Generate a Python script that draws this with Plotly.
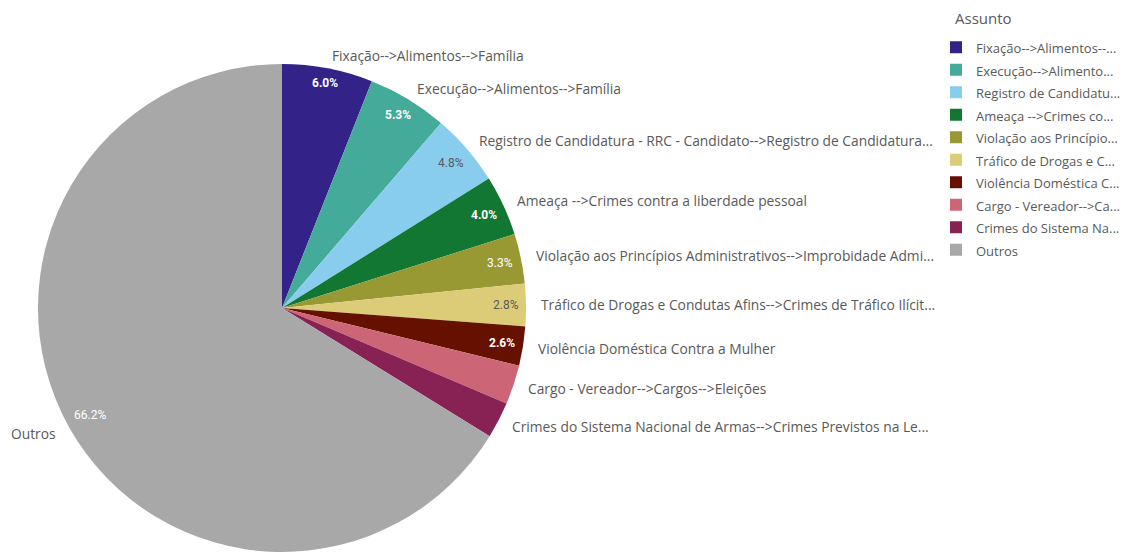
import math
import plotly.graph_objects as go

# Share of cases by subject (%), clockwise from 12 o'clock
legend_labels = [
    "Fixação-->Alimentos--...",
    "Execução-->Alimento...",
    "Registro de Candidatu...",
    "Ameaça -->Crimes co...",
    "Violação aos Princípio...",
    "Tráfico de Drogas e C...",
    "Violência Doméstica C...",
    "Cargo - Vereador-->Ca...",
    "Crimes do Sistema Na...",
    "Outros",
]
slice_labels = [
    "Fixação-->Alimentos-->Família",
    "Execução-->Alimentos-->Família",
    "Registro de Candidatura - RRC - Candidato-->Registro de Candidatura...",
    "Ameaça -->Crimes contra a liberdade pessoal",
    "Violação aos Princípios Administrativos-->Improbidade Admi...",
    "Tráfico de Drogas e Condutas Afins-->Crimes de Tráfico Ilícit...",
    "Violência Doméstica Contra a Mulher",
    "Cargo - Vereador-->Cargos-->Eleições",
    "Crimes do Sistema Nacional de Armas-->Crimes Previstos na Le...",
    "Outros",
]
shares = [6.0, 5.3, 4.8, 4.0, 3.3, 2.8, 2.6, 2.6, 2.4, 66.2]
show_pct = [True, True, True, True, True, True, True, False, False, True]
colors = ["#332288", "#44aa99", "#88ccee", "#117733", "#999933",
          "#ddcc77", "#661100", "#cc6677", "#882255", "#a8a8a8"]
pct_colors = ["#ffffff", "#ffffff", "#595959", "#ffffff", "#ffffff",
              "#595959", "#ffffff", "#ffffff", "#ffffff", "#ffffff"]
pct_bold = [True, True, False, True, False, False, True, False, False, False]

W, H = 1130, 552
CX, TOP, R = 282, 64, 244
CY = TOP + R

FONT = "Open Sans"
TEXT_GRAY = "#595959"

dom_x = [(CX - R) / W, (CX + R) / W]
dom_y = [max(0.0, 1 - (TOP + 2 * R) / H), 1 - TOP / H]

# legend rows use a taller line box than the visible text size
legend_text = [f'<span style="font-size:13px">{t}</span>' for t in legend_labels]

fig = go.Figure(go.Pie(
    labels=legend_text,
    values=shares,
    sort=False,
    direction="clockwise",
    rotation=0,
    marker=dict(colors=colors, line=dict(width=0)),
    textinfo="none",
    hoverinfo="label+percent",
    domain=dict(x=dom_x, y=dom_y),
))


def to_paper(px, py):
    return px / W, 1 - py / H


annotations = []
total = sum(shares)
cum = 0.0
for lab, v, sp, pc, bold in zip(slice_labels, shares, show_pct, pct_colors, pct_bold):
    mid = (cum + v / 2) / total * 2 * math.pi
    cum += v
    s, c = math.sin(mid), math.cos(mid)

    # outside category label
    rl = R + 13
    x, y = to_paper(CX + rl * s, CY - rl * c)
    annotations.append(dict(
        x=x, y=y, xref="paper", yref="paper", text=lab, showarrow=False,
        xanchor="left" if s >= 0 else "right", yanchor="middle",
        font=dict(family=FONT, size=13.8, color=TEXT_GRAY),
    ))

    # percentage inside the slice, near the rim
    if sp:
        t = f"{v / total * 100:.1f}%"
        tw, th = 6.6 * len(t), 12
        ext = tw / 2 * abs(s) + th / 2 * abs(c)
        rp = R - 7 - ext
        x, y = to_paper(CX + rp * s, CY - rp * c)
        annotations.append(dict(
            x=x, y=y, xref="paper", yref="paper",
            text=f"<b>{t}</b>" if bold else t, showarrow=False,
            xanchor="center", yanchor="middle",
            font=dict(family="Roboto", size=12, color=pc),
        ))

# legend heading
hx, hy = to_paper(953, 18)
annotations.append(dict(
    x=hx, y=hy, xref="paper", yref="paper", text="Assunto", showarrow=False,
    xanchor="left", yanchor="middle",
    font=dict(family=FONT, size=15, color=TEXT_GRAY),
))

fig.update_layout(
    width=W, height=H,
    margin=dict(l=0, r=0, t=0, b=0, autoexpand=False),
    paper_bgcolor="white",
    plot_bgcolor="white",
    annotations=annotations,
    showlegend=True,
    legend=dict(
        x=936 / W, y=1 - 31 / H, xanchor="left", yanchor="top",
        font=dict(family=FONT, size=15, color=TEXT_GRAY),
        traceorder="normal",
        itemclick=False,
    ),
)

fig.write_html("out.html")
